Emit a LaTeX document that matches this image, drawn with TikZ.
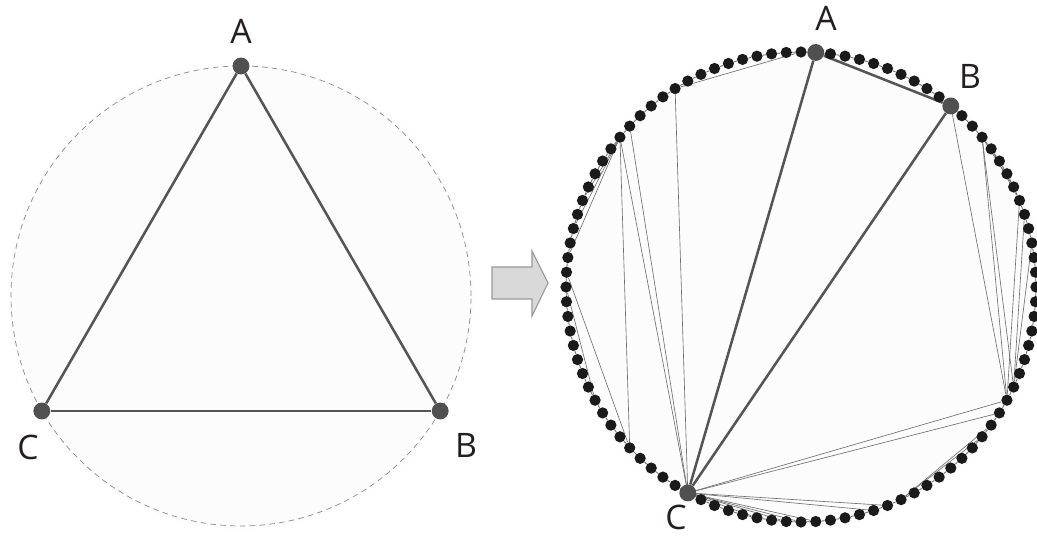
\documentclass[tikz,border=0pt]{standalone}
\usepackage{fontspec}
\newfontfamily\lblfont{Open Sans}
\usepackage{xcolor}
\definecolor{cEdge}{HTML}{555555}
\definecolor{cBig}{HTML}{505050}
\definecolor{cDot}{HTML}{1A1A1A}
\definecolor{cThin}{HTML}{6E6E6E}
\definecolor{cDash}{HTML}{8C8C8C}
\definecolor{cDisc}{HTML}{FCFCFC}
\definecolor{cArrowFill}{HTML}{D9D9D9}
\definecolor{cArrowDraw}{HTML}{9A9A9A}
\definecolor{cText}{HTML}{231F20}
\usetikzlibrary{calc,backgrounds}
\tikzset{
  node-big/.style={circle,fill=cBig,inner sep=0pt,minimum size=12pt},
  node-dot/.style={circle,fill=cDot,inner sep=0pt,minimum size=8pt},
  node-lbl/.style={font=\lblfont\fontsize{24}{28}\selectfont,text=cText,inner sep=0pt},
  edge-thick/.style={line width=1.8pt,draw=cEdge},
  edge-thin/.style={line width=0.45pt,draw=cThin},
  edge-ring/.style={line width=0.6pt,draw=cThin},
  circle-dash/.style={dash pattern=on 4pt off 3pt,line width=0.5pt,draw=cDash},
  arrow-block/.style={fill=cArrowFill,draw=cArrowDraw,line width=0.8pt},
}

\begin{document}
\begin{tikzpicture}[x=0.025cm,y=0.025cm]
  \useasboundingbox (0,0) rectangle (1037,537);
  \coordinate (lc) at (241,241);
  \coordinate (rc) at (801,250);
  \begin{scope}[on background layer]
    \fill[cDisc] (lc) circle (233);
    \fill[cDisc] (rc) circle (241);
  \end{scope}

  % left: inscribed triangle
  \draw[circle-dash] (lc) circle (230);
  \node[node-big] (LA) at ($(lc)+(90:230)$) {};
  \node[node-big] (LB) at ($(lc)+(-30:230)$) {};
  \node[node-big] (LC) at ($(lc)+(210:230)$) {};
  \draw[edge-thick] (LA) -- (LB);
  \draw[edge-thick] (LB) -- (LC);
  \draw[edge-thick] (LC) -- (LA);
  \node[node-lbl] (tLA) at (241,506) {A};
  \node[node-lbl] (tLB) at (466,92) {B};
  \node[node-lbl] (tLC) at (28,90) {C};

  % arrow
  \filldraw[arrow-block] (492,270) -- (532,270) -- (532,286) -- (548,254)
    -- (532,221) -- (532,238) -- (492,238) -- cycle;

  % right: ring of points
  \foreach \k in {0,...,99}
    \node[node-dot] (d\k) at ($(rc)+(\k*3.6:235)$) {};
  \node[node-big] (RA) at (d24) {};
  \node[node-big] (RB) at (d14) {};
  \node[node-big] (RC) at (d67) {};
  \begin{scope}[on background layer]
    \foreach \k [evaluate=\k as \n using {int(mod(\k+1,100))}] in {0,...,99}
      \draw[edge-ring] (d\k) -- (d\n);
    \foreach \i/\j in {34/25,34/67,39/62,39/67,38/67,39/44,39/46,39/48,49/62,50/58,%
      14/92,11/92,11/93,3/93,5/93,6/92,11/7,10/6,67/92,67/91,90/82,89/82,%
      67/81,67/80,67/72,67/74,67/75,67/76}
      \draw[edge-thin] (d\i) -- (d\j);
    \draw[edge-thick] (RA) -- (RB);
    \draw[edge-thick] (RA) -- (RC);
    \draw[edge-thick] (RB) -- (RC);
  \end{scope}
  \node[node-lbl] (tRA) at (826,519) {A};
  \node[node-lbl] (tRB) at (970,461) {B};
  \node[node-lbl] (tRC) at (676,20) {C};
\end{tikzpicture}
\end{document}
